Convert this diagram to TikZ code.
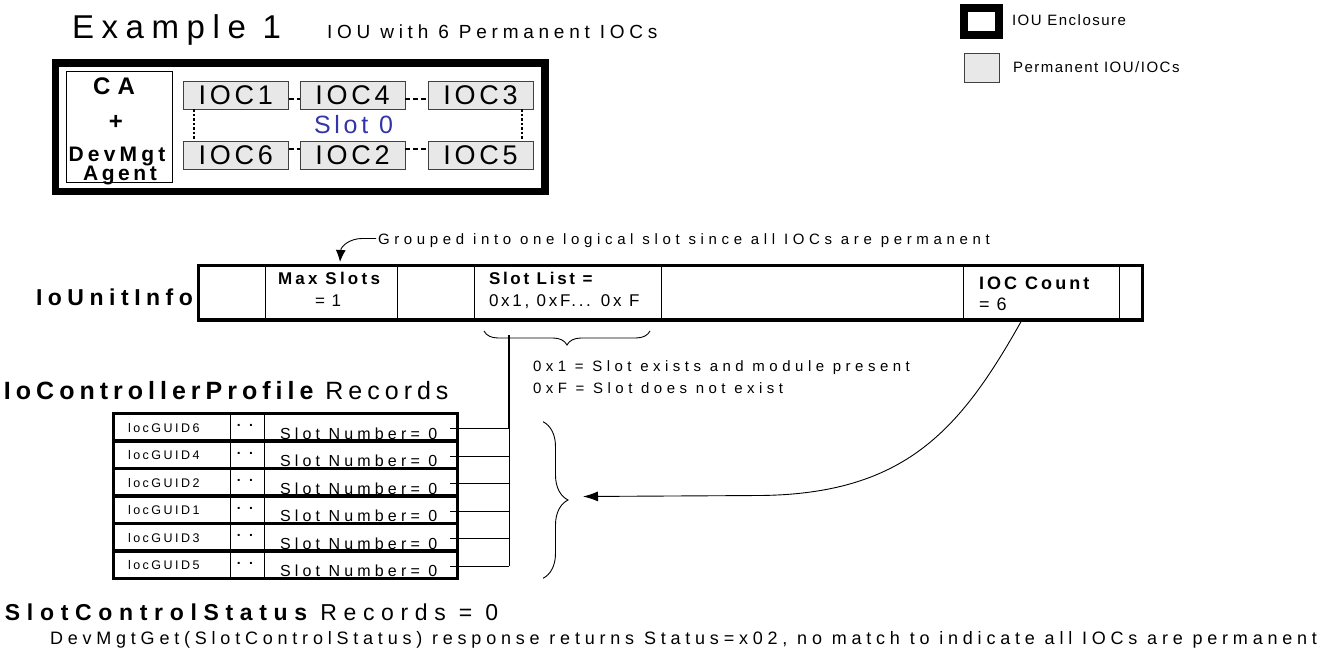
\documentclass[tikz,border=0pt]{standalone}
\usepackage{fontspec}
\setmainfont{Liberation Sans}
\usetikzlibrary{arrows.meta,decorations.pathreplacing}
\newcommand\tsz[2]{\fontsize{#1}{#1}\selectfont\addfontfeature{LetterSpace=#2}}
\definecolor{slotblue}{RGB}{51,51,170}
\definecolor{permgray}{RGB}{232,232,232}
\begin{document}
\begin{tikzpicture}[x=1pt,y=-1pt,
  txt/.style={inner sep=0pt,outer sep=0pt,anchor=base west},
  ctxt/.style={inner sep=0pt,outer sep=0pt,anchor=base},
  permbox/.style={draw=black!75,fill=permgray,line width=0.8pt,inner sep=0pt},
  iocbox/.style={permbox,minimum width=105pt,minimum height=28pt,font={\tsz{27}{14}}},
  thin/.style={line width=0.9pt},
  dashc/.style={line width=1.2pt,dash pattern=on 5pt off 3pt},
  dotc/.style={line width=2pt,dash pattern=on 2.5pt off 2pt},
  frame/.style={draw,inner sep=0pt,outer sep=0pt}]
\useasboundingbox (0,0) rectangle (1332,658);
% ---------- header
\node[txt,font={\tsz{33}{23}}] (title) at (72,39) {Example 1};
\node[txt,font={\tsz{19}{25}}] (subtitle) at (327,39) {IOU with 6 Permanent IOCs};
% ---------- legend
\node[frame,line width=8pt,minimum width=35pt,minimum height=27pt] (legiou) at (981.5,21.5) {};
\node[txt,font={\tsz{15}{10}}] (legioutxt) at (1012,26) {IOU Enclosure};
\node[permbox,minimum width=35pt,minimum height=29pt] (legperm) at (981.5,67.5) {};
\node[txt,font={\tsz{15}{10}}] (legpermtxt) at (1013,73) {Permanent IOU/IOCs};
% ---------- example enclosure
\node[frame,line width=7.5pt,minimum width=489.5pt,minimum height=128.5pt] (iou) at (300.25,127.25) {};
\node[frame,thin,minimum width=106pt,minimum height=111.7pt] (ca) at (119.7,126.85) {};
\node[ctxt,font={\bfseries\tsz{24}{30}}] (catxt) at (114,95) {CA};
\node[ctxt,font={\bfseries\tsz{24}{0}}] (plus) at (116,129) {+};
\node[ctxt,font={\bfseries\tsz{21}{20}}] (dm) at (117,161) {DevMgt};
\node[ctxt,font={\bfseries\tsz{21}{17}}] (ag) at (120,180) {Agent};
\node[iocbox] (ioc1) at (235.8,95) {IOC1};
\node[iocbox] (ioc4) at (352.5,95) {IOC4};
\node[iocbox] (ioc3) at (480.5,95) {IOC3};
\node[iocbox] (ioc6) at (235.8,155) {IOC6};
\node[iocbox] (ioc2) at (352.5,155) {IOC2};
\node[iocbox] (ioc5) at (480.5,155) {IOC5};
\draw[dashc] ([yshift=-4pt]ioc1.east) -- ([yshift=-4pt]ioc4.west);
\draw[dashc] ([yshift=-4pt]ioc4.east) -- ([yshift=-4pt]ioc3.west);
\draw[dashc] ([yshift=6pt]ioc6.east) -- ([yshift=6pt]ioc2.west);
\draw[dashc] ([yshift=6pt]ioc2.east) -- ([yshift=6pt]ioc5.west);
\draw[dotc] ([xshift=11.5pt]ioc1.south west) -- ([xshift=11.5pt]ioc6.north west);
\draw[dotc] ([xshift=-11.5pt]ioc3.south east) -- ([xshift=-11.5pt]ioc5.north east);
\node[txt,font={\tsz{25}{15}},text=slotblue] (slot0) at (314,133) {Slot 0};
% ---------- IoUnitInfo
\node[txt,font={\bfseries\tsz{23}{24}}] (iuilabel) at (36,305) {IoUnitInfo};
\foreach \x in {265.7,397,474,661.7,963.3,1119.3} \draw[thin] (\x,265.7) -- (\x,320);
\node[frame,line width=3.5pt,minimum width=944.2pt,minimum height=54.3pt] (iui) at (670.4,292.85) {};
\node[txt,font={\bfseries\tsz{17}{19}}] (maxs) at (278,284) {Max Slots};
\node[txt,font={\tsz{17}{12}}] (maxv) at (315,306.7) {= 1};
\node[txt,font={\bfseries\tsz{17}{16}}] (sl) at (489,284) {Slot List =};
\node[txt,font={\tsz{17}{16}}] (slv) at (489,306.7) {0x1, 0xF... 0x F};
\node[txt,font={\bfseries\tsz{18}{17}}] (cnt) at (979,289) {IOC Count};
\node[txt,font={\tsz{18}{12}}] (cntv) at (979,310.7) {= 6};
% grouped callout
\node[txt,font={\tsz{15}{31}}] (grp) at (378,244) {Grouped into one logical slot since all IOCs are permanent};
\coordinate (gl) at (376,238.5);
\coordinate (gtip) at (340,262);
\draw[thin,-{Latex[length=12pt,width=10pt]}] (gl) -- (362,238.5) .. controls (350,238.5) and (341,246) .. (gtip);
% slot list brace and notes
\draw[thin,decorate,decoration={brace,amplitude=14pt}] (650,331) -- (484,331);
\node[txt,font={\tsz{15}{30}}] (n1) at (533,371.7) {0x1 = Slot exists and module present};
\node[txt,font={\tsz{15}{30}}] (n2) at (533,393.3) {0xF = Slot does not exist};
% ---------- IoControllerProfile records
\node[txt,font={\tsz{25}{20}}] (icp) at (4,399) {{\bfseries IoControllerProfile} Records};
\draw[thin] (230,413.5) -- (230,578.5);
\draw[thin] (264,413.5) -- (264,578.5);
\foreach \k in {1,...,5} \draw[line width=3.5pt] (113.5,{413.5+27.5*\k}) -- (457.5,{413.5+27.5*\k});
\node[frame,line width=3.5pt,minimum width=344pt,minimum height=165pt] (tbl) at (285.5,496) {};
\foreach \g/\k in {6/0,4/1,2/2,1/3,3/4,5/5}{
  \pgfmathsetmacro\yt{413.5+27.5*\k}
  \node[txt,font={\tsz{12.5}{20}}] (guid\g) at (128,\yt+18.5) {locGUID\g};
  \node[ctxt,font={\bfseries\tsz{14}{60}}] (dots\g) at (245,\yt+13) {..};
  \node[txt,font={\tsz{16}{26}}] (sn\g) at (280,\yt+25.5) {Slot Number= 0};
  \coordinate (c\g) at (450,\yt+15);
  \coordinate (t\g) at (509,\yt+15);
  \draw[thin] (c\g) -- (t\g);
}
\coordinate (ttop) at (509,335);
\draw[line width=2.2pt] (ttop) -- (t6);
\draw[thin] (t6) -- (t5);
% right brace and arrow from IOC count
\draw[thin,decorate,decoration={brace,amplitude=25pt}] (543,421.7) -- (543,578.3);
\coordinate (cntb) at (1021,321.7);
\coordinate (arrtip) at (583,496.5);
\draw[thin,-{Latex[length=15pt,width=10pt]}] (cntb) .. controls (960,430) and (905,494) .. (760,495.5) -- (arrtip);
% ---------- SlotControlStatus
\node[txt,font={\tsz{23}{29}}] (scs) at (5,620) {{\bfseries SlotControlStatus} Records = 0};
\node[txt,font={\tsz{18}{26.6}}] (dmg) at (50,644) {DevMgtGet(SlotControlStatus) response returns Status=x02, no match to indicate all IOCs are permanent};
\end{tikzpicture}
\end{document}
